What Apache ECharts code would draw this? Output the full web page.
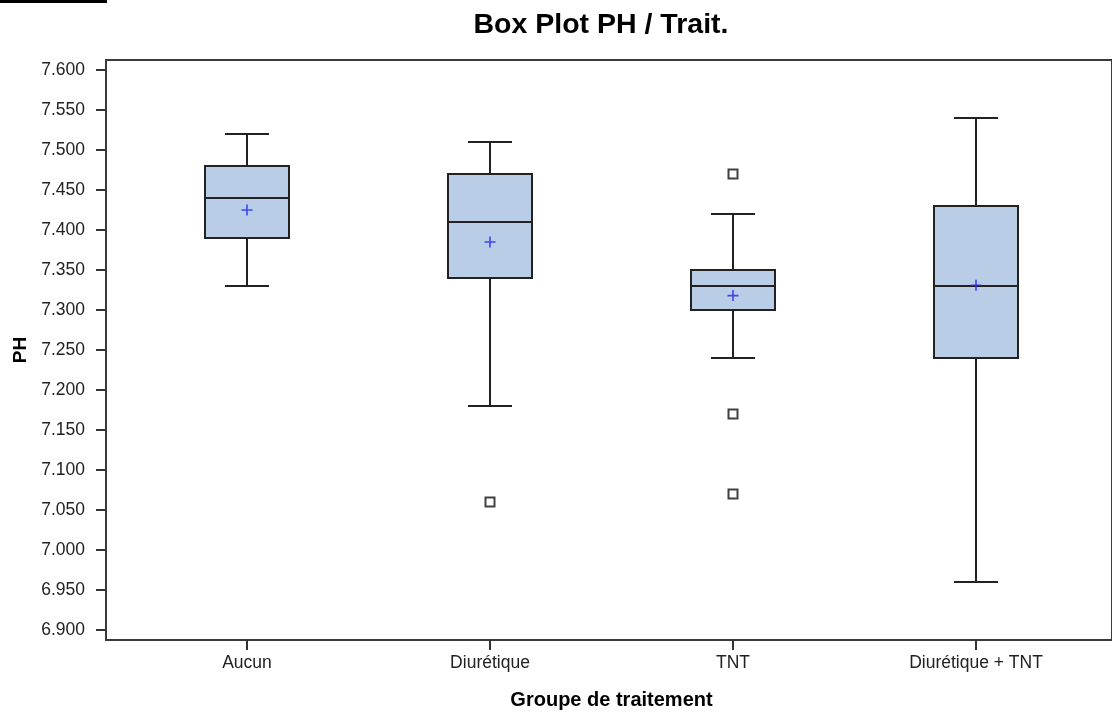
<!DOCTYPE html>
<html>
<head>
<meta charset="utf-8">
<script src="https://cdn.jsdelivr.net/npm/echarts@6/dist/echarts.min.js"></script>
<style>html,body{margin:0;padding:0;background:#fff;}#c{width:1112px;height:715px;}</style>
</head>
<body>
<div id="c"></div>
<script>
var categories = ['Aucun', 'Diurétique', 'TNT', 'Diurétique + TNT'];
var lowWhisker = [7.33, 7.18, 7.24, 6.96];
var q1 = [7.39, 7.34, 7.30, 7.24];
var median = [7.44, 7.41, 7.33, 7.33];
var q3 = [7.48, 7.47, 7.35, 7.43];
var highWhisker = [7.52, 7.51, 7.42, 7.54];
var means = [7.425, 7.385, 7.318, 7.331];
var outlierCat = [1, 2, 2, 2];
var outlierVal = [7.06, 7.47, 7.17, 7.07];

var FONT = '"Liberation Sans", Arial, sans-serif';
var boxData = categories.map(function (c, i) {
  return [i, lowWhisker[i], q1[i], median[i], q3[i], highWhisker[i]];
});
var meanData = categories.map(function (c, i) { return [i, means[i]]; });
var outData = outlierCat.map(function (c, i) { return [c, outlierVal[i]]; });

var BOX_W = 84, CAP_W = 44;
function renderBox(params, api) {
  var x = api.value(0);
  var pLow = api.coord([x, api.value(1)]);
  var pQ1 = api.coord([x, api.value(2)]);
  var pMed = api.coord([x, api.value(3)]);
  var pQ3 = api.coord([x, api.value(4)]);
  var pHigh = api.coord([x, api.value(5)]);
  var cx = Math.round(pMed[0]);
  var st = { stroke: '#222', lineWidth: 2, fill: null };
  return {
    type: 'group',
    children: [
      { type: 'line', shape: { x1: cx, y1: pQ3[1], x2: cx, y2: pHigh[1] }, style: st },
      { type: 'line', shape: { x1: cx, y1: pQ1[1], x2: cx, y2: pLow[1] }, style: st },
      { type: 'line', shape: { x1: cx - CAP_W / 2, y1: pHigh[1], x2: cx + CAP_W / 2, y2: pHigh[1] }, style: st },
      { type: 'line', shape: { x1: cx - CAP_W / 2, y1: pLow[1], x2: cx + CAP_W / 2, y2: pLow[1] }, style: st },
      { type: 'rect', shape: { x: cx - BOX_W / 2, y: pQ3[1], width: BOX_W, height: pQ1[1] - pQ3[1] },
        style: { fill: '#b9cee6', stroke: '#222', lineWidth: 2 } },
      { type: 'line', shape: { x1: cx - BOX_W / 2, y1: pMed[1], x2: cx + BOX_W / 2, y2: pMed[1] }, style: st }
    ]
  };
}

var chart = echarts.init(document.getElementById('c'));
chart.setOption({
  animation: false,
  backgroundColor: '#fff',
  title: {
    text: 'Box Plot PH / Trait.',
    left: 596, textAlign: 'center', top: 6,
    textStyle: { fontFamily: FONT, fontSize: 28.5, fontWeight: 'bold', color: '#000' }
  },
  graphic: [
    { type: 'rect', shape: { x: 0, y: 0, width: 107, height: 3 }, style: { fill: '#000' } }
  ],
  grid: [
    { left: 125.5, right: 14.5, top: 70, bottom: 85 },
    { left: 106, right: -20, top: 60, bottom: 75, show: true, borderColor: '#3a3a3a', borderWidth: 2, backgroundColor: 'transparent' }
  ],
  xAxis: [
    {
      type: 'category', data: categories, gridIndex: 0, offset: 10,
      axisLine: { show: false },
      axisTick: { show: true, alignWithLabel: true, length: 10, lineStyle: { color: '#333', width: 2 } },
      axisLabel: { fontFamily: FONT, fontSize: 17.5, color: '#222', margin: 14 },
      name: 'Groupe de traitement', nameLocation: 'middle', nameGap: 50,
      nameTextStyle: { fontFamily: FONT, fontSize: 20, fontWeight: 'bold', color: '#000' },
      splitLine: { show: false }
    },
    { type: 'value', gridIndex: 1, show: false, min: 0, max: 1 }
  ],
  yAxis: [
    {
      type: 'value', gridIndex: 0, min: 6.9, max: 7.6, interval: 0.05, offset: 19.5,
      axisLine: { show: false },
      axisTick: { show: true, length: 10, lineStyle: { color: '#333', width: 2 } },
      axisLabel: { fontFamily: FONT, fontSize: 17.5, color: '#222', margin: 21,
        formatter: function (v) { return v.toFixed(3); } },
      splitLine: { show: false },
      name: 'PH', nameLocation: 'middle', nameGap: 68,
      nameTextStyle: { fontFamily: FONT, fontSize: 19, fontWeight: 'bold', color: '#000' }
    },
    { type: 'value', gridIndex: 1, show: false, min: 0, max: 1 }
  ],
  series: [
    { type: 'custom', xAxisIndex: 0, yAxisIndex: 0, data: boxData, renderItem: renderBox,
      encode: { x: 0, y: [1, 2, 3, 4, 5] }, z: 2 },
    { type: 'scatter', xAxisIndex: 0, yAxisIndex: 0, data: meanData,
      symbol: 'path://M0,4.25H10V5.75H0Z M4.25,0H5.75V10H4.25Z', symbolSize: 11,
      itemStyle: { color: '#2424f5' }, z: 5 },
    { type: 'scatter', xAxisIndex: 0, yAxisIndex: 0, data: outData,
      symbol: 'rect', symbolSize: 9,
      itemStyle: { color: '#fff', borderColor: '#111', borderWidth: 2 }, z: 5 }
  ]
});
</script>
</body>
</html>
